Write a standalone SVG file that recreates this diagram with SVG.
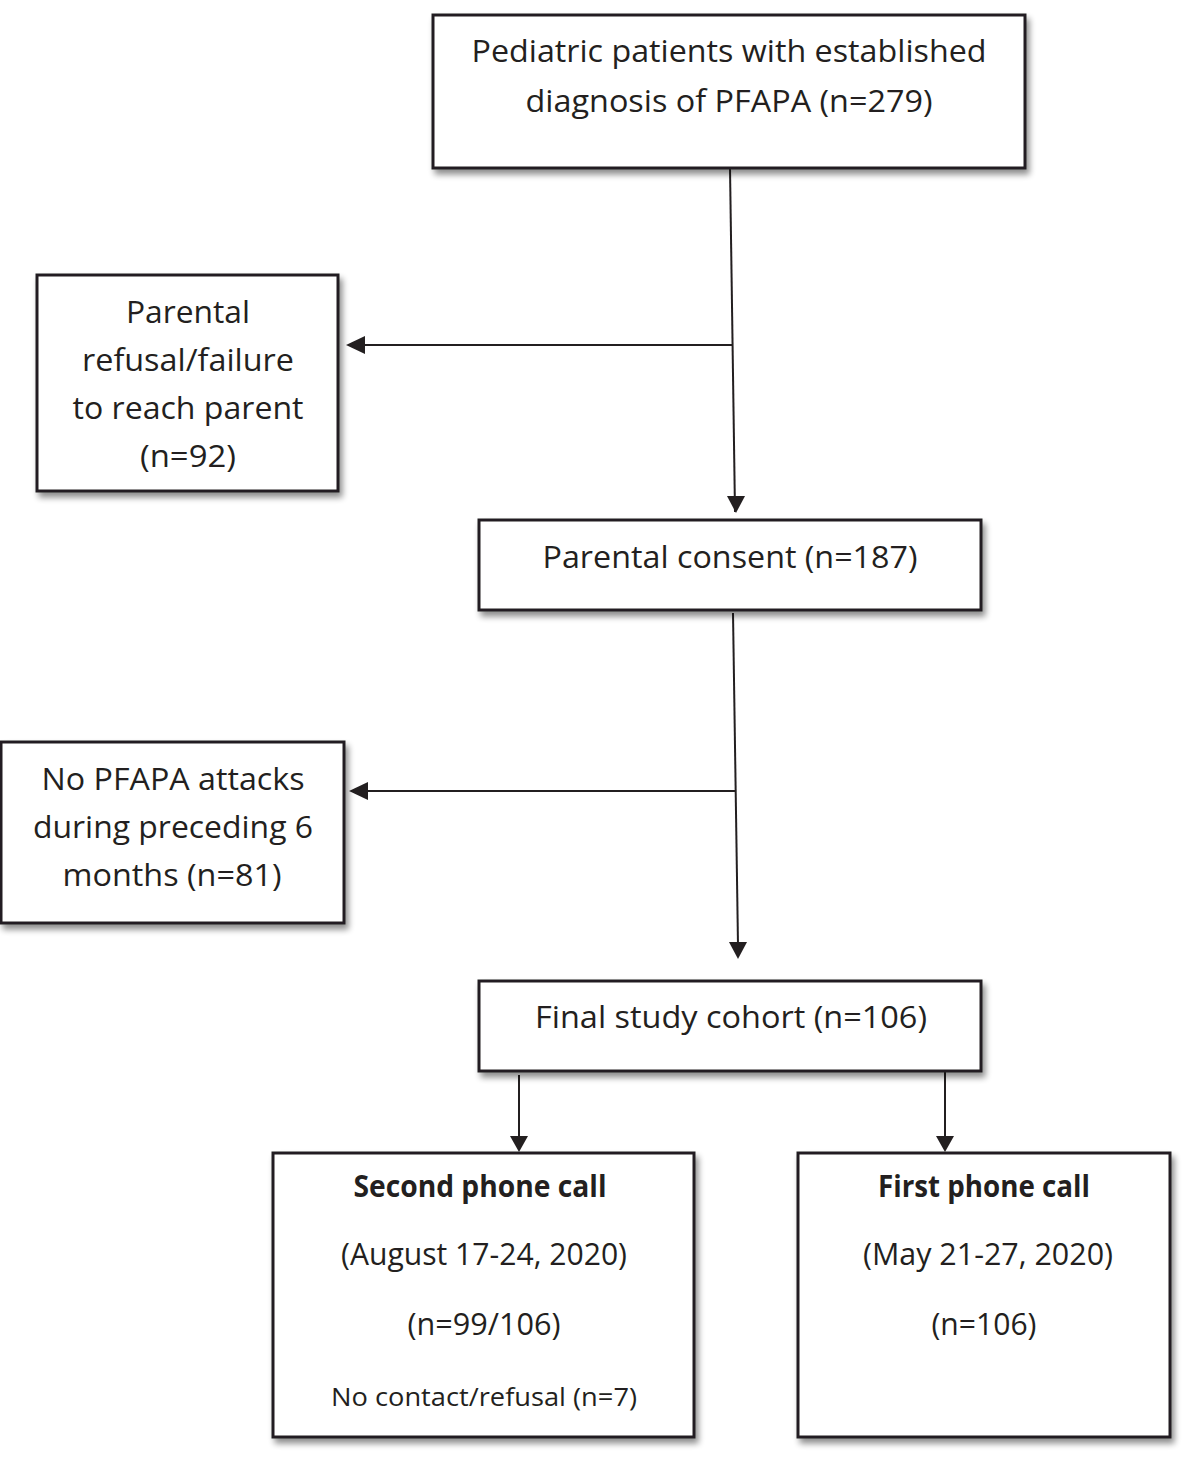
<svg xmlns="http://www.w3.org/2000/svg" width="1184" height="1459" viewBox="0 0 1184 1459">
<style>
.box{fill:#fff;stroke:#231f20;stroke-width:3;filter:url(#sh)}
.t{font-family:"Open Sans","Liberation Sans",sans-serif;font-size:31px;fill:#231f20;text-anchor:middle}
.b{font-weight:bold}
.s{font-size:26px}
.c{stroke:#231f20;stroke-width:2;fill:none;marker-end:url(#ah)}
</style>
<defs>
<filter id="sh" x="-10%" y="-10%" width="120%" height="130%">
<feGaussianBlur in="SourceAlpha" stdDeviation="3"/>
<feOffset dx="3" dy="5" result="o"/>
<feComponentTransfer><feFuncA type="linear" slope="0.45"/></feComponentTransfer>
<feMerge><feMergeNode/><feMergeNode in="SourceGraphic"/></feMerge>
</filter>
<marker id="ah" markerWidth="10" markerHeight="10" refX="9" refY="5" orient="auto" markerUnits="userSpaceOnUse" viewBox="0 0 10 10">
<path d="M0,0 L10,5 L0,10 z" fill="#231f20"/>
</marker>
</defs>
<g id="connectors">
<path class="c" d="M730,168 L735,512" style="marker-end:none"/>
<path d="M727,496 L745,496 L736,513 z" fill="#231f20"/>
<path d="M732,345 L362,345" stroke="#231f20" stroke-width="2"/>
<path d="M346,345 L365,336 L365,354 z" fill="#231f20"/>
<path d="M733,613 L738,945" stroke="#231f20" stroke-width="2"/>
<path d="M729,942 L747,942 L738,959 z" fill="#231f20"/>
<path d="M735,791 L365,791" stroke="#231f20" stroke-width="2"/>
<path d="M349,791 L368,782 L368,800 z" fill="#231f20"/>
<path d="M519,1075 L519,1137" stroke="#231f20" stroke-width="2"/>
<path d="M510,1136 L528,1136 L519,1152 z" fill="#231f20"/>
<path d="M945,1072 L945,1137" stroke="#231f20" stroke-width="2"/>
<path d="M936,1136 L954,1136 L945,1152 z" fill="#231f20"/>
</g>
<g id="n1"><rect class="box" x="433" y="15" width="592" height="153"/>
<text class="t" x="729" y="62" textLength="515" lengthAdjust="spacingAndGlyphs">Pediatric patients with established</text>
<text class="t" x="729" y="112" textLength="407" lengthAdjust="spacingAndGlyphs">diagnosis of PFAPA (n=279)</text></g>
<g id="n2"><rect class="box" x="37" y="275" width="301" height="216"/>
<text class="t" x="188" y="323" textLength="124" lengthAdjust="spacingAndGlyphs">Parental</text>
<text class="t" x="188" y="371" textLength="212" lengthAdjust="spacingAndGlyphs">refusal/failure</text>
<text class="t" x="188" y="419" textLength="231" lengthAdjust="spacingAndGlyphs">to reach parent</text>
<text class="t" x="188" y="467" textLength="96" lengthAdjust="spacingAndGlyphs">(n=92)</text></g>
<g id="n3"><rect class="box" x="479" y="520" width="502" height="90"/>
<text class="t" x="730" y="568" textLength="375" lengthAdjust="spacingAndGlyphs">Parental consent (n=187)</text></g>
<g id="n4"><rect class="box" x="1" y="742" width="343" height="181"/>
<text class="t" x="173" y="790" textLength="263" lengthAdjust="spacingAndGlyphs">No PFAPA attacks</text>
<text class="t" x="173" y="838" textLength="280" lengthAdjust="spacingAndGlyphs">during preceding 6</text>
<text class="t" x="172" y="886" textLength="219" lengthAdjust="spacingAndGlyphs">months (n=81)</text></g>
<g id="n5"><rect class="box" x="479" y="981" width="502" height="90"/>
<text class="t" x="731" y="1028" textLength="392" lengthAdjust="spacingAndGlyphs">Final study cohort (n=106)</text></g>
<g id="n6"><rect class="box" x="273" y="1153" width="421" height="284"/>
<text class="t b" x="480" y="1197" textLength="253" lengthAdjust="spacingAndGlyphs">Second phone call</text>
<text class="t" x="484" y="1265" textLength="286" lengthAdjust="spacingAndGlyphs">(August 17-24, 2020)</text>
<text class="t" x="484" y="1335" textLength="153" lengthAdjust="spacingAndGlyphs">(n=99/106)</text>
<text class="t s" x="484" y="1406" textLength="306" lengthAdjust="spacingAndGlyphs">No contact/refusal (n=7)</text></g>
<g id="n7"><rect class="box" x="798" y="1153" width="372" height="284"/>
<text class="t b" x="984" y="1197" textLength="212" lengthAdjust="spacingAndGlyphs">First phone call</text>
<text class="t" x="988" y="1265" textLength="250" lengthAdjust="spacingAndGlyphs">(May 21-27, 2020)</text>
<text class="t" x="984" y="1335" textLength="105" lengthAdjust="spacingAndGlyphs">(n=106)</text></g>
</svg>
